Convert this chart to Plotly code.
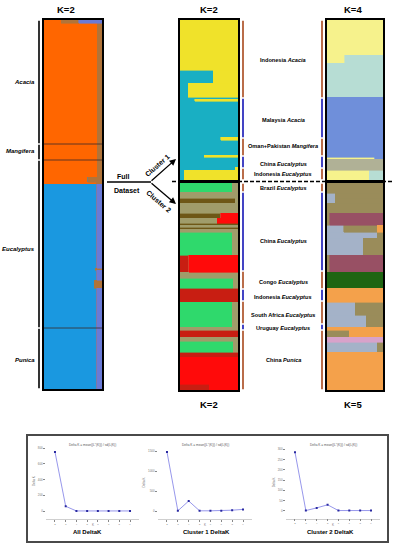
import numpy as np
import plotly.graph_objects as go

W, H = 399, 550


def px(x):
    return x / W


def py(y):
    return 1 - y / H


# ---------------- DATA ----------------
# Full dataset, K=2 (rows of individuals, membership proportions)
full_colors = ["#FF6600", "#1A98E0", "#B0743A", "#6A7AD6"]
full_sizes = [3, 154, 5, 2, 84, 2, 10, 8, 101]
full_q = [[0.3, 0, 0.3, 0.4], [0.92, 0, 0.08, 0], [0.75, 0, 0.25, 0], [0.9, 0, 0.1, 0],
          [0, 0.91, 0, 0.09], [0, 0.88, 0.12, 0], [0, 0.91, 0, 0.09], [0, 0.87, 0.13, 0],
          [0, 0.91, 0, 0.09]]
full_groups = ["Acacia", "Mangifera", "Eucalyptus", "Punica"]
full_group_sizes = [124, 16, 168, 61]
full_label_shift = [0, 1, -5, -1]

# Cluster 1, K=2
c1k2_colors = ["#19AFC3", "#F0E22A"]
c1k2_sizes = [50, 13, 14, 2, 2, 36, 3, 15, 2, 10, 3, 10]
c1k2_q = [[0, 1], [0.57, 0.43], [0.14, 0.86], [1, 0], [0.25, 0.75], [1, 0], [0.7, 0.3],
          [1, 0], [0.42, 0.58], [1, 0], [0.95, 0.05], [0.07, 0.93]]

# Cluster 1, K=4
c1k4_colors = ["#F6F28C", "#B7DDD4", "#6F8FDA", "#B0B196"]
c1k4_sizes = [35, 8, 34, 60, 2, 11, 10]
c1k4_q = [[1, 0, 0, 0], [0.32, 0.68, 0, 0], [0, 1, 0, 0], [0, 0, 1, 0], [0.85, 0, 0.15, 0],
          [0, 0, 0, 1], [0.75, 0.25, 0, 0]]

# Cluster 1 groups
c1_groups = ["Indonesia <i>Acacia</i>", "Malaysia <i>Acacia</i>", "Oman+Pakistan <i>Mangifera</i>",
             "China <i>Eucalyptus</i>", "Indonesia <i>Eucalyptus</i>"]
c1_group_sizes = [78, 40, 18, 12, 12]
c1_label_shift = [-1, -2, 1, -2, 0]

# Cluster 2, K=2
c2k2_colors = ["#C81E12", "#2FD96C", "#6E5716", "#A09C6A", "#FF0A0A"]
c2k2_sizes = [9, 6, 5, 10, 5, 5, 2, 2, 2, 3, 23, 17, 6, 10, 14, 25, 3, 7, 4, 11, 5, 27, 6]
c2k2_q = [[0, 0.9, 0, 0.1, 0], [0, 0, 0, 1, 0], [0, 0, 0.95, 0.05, 0], [0, 0, 0, 1, 0],
          [0, 0, 0.7, 0, 0.3], [0, 0, 0, 0.64, 0.36], [0, 0, 1, 0, 0], [0, 0, 0, 1, 0],
          [0, 0, 1, 0, 0], [0, 0, 0, 1, 0], [0, 0.9, 0, 0.1, 0], [0.15, 0, 0, 0, 0.85],
          [0, 0, 0, 1, 0], [0, 0.92, 0, 0.08, 0], [1, 0, 0, 0, 0], [0, 0.9, 0, 0.1, 0],
          [0, 0, 0, 1, 0], [1, 0, 0, 0, 0], [0, 0, 0, 1, 0], [0, 0.92, 0, 0.08, 0],
          [1, 0, 0, 0, 0], [0, 0, 0, 0, 1], [0.5, 0, 0, 0, 0.5]]

# Cluster 2, K=5
c2k5_colors = ["#A4B2C8", "#9A8C5A", "#985064", "#1F6512", "#F4A14B", "#D8A2CA"]
c2k5_sizes = [10, 5, 5, 10, 12, 7, 6, 17, 17, 16, 14, 13, 12, 3, 7, 5, 10, 38]
c2k5_q = [[0, 1, 0, 0, 0, 0], [0.15, 0.85, 0, 0, 0, 0], [0.15, 0.85, 0, 0, 0, 0],
          [0, 1, 0, 0, 0, 0], [0, 0.05, 0.95, 0, 0, 0], [0.3, 0.6, 0, 0, 0.1, 0],
          [0.9, 0.1, 0, 0, 0, 0], [0.65, 0.35, 0, 0, 0, 0], [0, 0.05, 0.95, 0, 0, 0],
          [0, 0, 0, 1, 0, 0], [0, 0, 0, 0, 1, 0], [0.5, 0.5, 0, 0, 0, 0],
          [0.7, 0.3, 0, 0, 0, 0], [0, 0, 0, 0, 1, 0], [0, 0.4, 0, 0, 0.6, 0],
          [0, 0, 0, 0, 0, 1], [0.9, 0.1, 0, 0, 0, 0], [0, 0, 0, 0, 1, 0]]

# Cluster 2 groups
c2_groups = ["Brazil <i>Eucalyptus</i>", "China <i>Eucalyptus</i>", "Congo <i>Eucalyptus</i>",
             "Indonesia <i>Eucalyptus</i>", "South Africa <i>Eucalyptus</i>",
             "Uruguay <i>Eucalyptus</i>", "China <i>Punica</i>"]
c2_group_sizes = [9, 79, 18, 12, 23, 6, 60]
c2_label_shift = [0, -9, -2, -2, -2, -1, 0]

# Delta K (Evanno)
k_values = [2, 3, 4, 5, 6, 7, 8, 9]
dk_all = [750, 60, 1, 1, 1, 1, 1, 1]
dk_c1 = [1475, 5, 250, 5, 5, 5, 20, 40]
dk_c2 = [285, 2, 15, 30, 2, 2, 2, 2]
dk_titles = ["All DeltaK", "Cluster 1 DeltaK", "Cluster 2 DeltaK"]

# ---------------- FIGURE ----------------
fig = go.Figure()
layout = dict(width=W, height=H, margin=dict(l=0, r=0, t=0, b=0),
              paper_bgcolor="white", plot_bgcolor="white", barmode="stack",
              showlegend=False, font=dict(family="Liberation Sans, Arial", color="black"))
shapes = []
annots = []

FONT = "Liberation Sans, Arial"


def note(**kw):
    d = dict(xanchor="center", yanchor="middle", showarrow=False)
    d.update(kw)
    annots.append(d)


def structure_panel(n, sizes, q, colors, xdom, ydom):
    sizes = np.array(sizes, dtype=float)
    total = sizes.sum()
    centers = np.cumsum(sizes) - sizes / 2
    q = np.array(q, dtype=float)
    sfx = "" if n == 1 else str(n)
    for j, c in enumerate(colors):
        fig.add_trace(go.Bar(x=q[:, j], y=centers, width=sizes, orientation="h",
                             marker=dict(color=c, line=dict(width=0.6, color=c)),
                             xaxis="x" + sfx, yaxis="y" + sfx, hoverinfo="skip"))
    layout["xaxis" + sfx] = dict(domain=[px(xdom[0]), px(xdom[1])], range=[0, 1],
                                 anchor="y" + sfx, showticklabels=False, showgrid=False,
                                 zeroline=False, showline=True, mirror=True,
                                 linecolor="black", linewidth=2, ticks="", fixedrange=True)
    layout["yaxis" + sfx] = dict(domain=[py(ydom[1]), py(ydom[0])], range=[total, 0],
                                 anchor="x" + sfx, showticklabels=False, showgrid=False,
                                 zeroline=False, showline=True, mirror=True,
                                 linecolor="black", linewidth=2, ticks="", fixedrange=True)
    return "y" + sfx


yl = structure_panel(1, full_sizes, full_q, full_colors, (44, 102), (20, 389))
y2 = structure_panel(2, c1k2_sizes, c1k2_q, c1k2_colors, (180, 238), (20, 180))
y3 = structure_panel(3, c2k2_sizes, c2k2_q, c2k2_colors, (180, 238), (183, 390))
y4 = structure_panel(4, c1k4_sizes, c1k4_q, c1k4_colors, (327, 383), (20, 180))
y5 = structure_panel(5, c2k5_sizes, c2k5_q, c2k5_colors, (327, 383), (183, 390))

# Full-dataset group brackets and separators
ends = np.cumsum(full_group_sizes)
starts = ends - np.array(full_group_sizes)
for i, g in enumerate(full_groups):
    shapes.append(dict(type="line", xref="paper", yref=yl, x0=px(39), x1=px(39),
                       y0=starts[i] + 0.8, y1=ends[i] - 0.8,
                       line=dict(color="black", width=1.6)))
    note(xref="paper", yref=yl, x=px(37), y=(starts[i] + ends[i]) / 2,
         yshift=full_label_shift[i], xanchor="right",
         text="<b><i>%s</i></b>" % g, font=dict(size=6, family=FONT))
    if i > 0:
        shapes.append(dict(type="line", xref="x", yref=yl, x0=0, x1=1, y0=starts[i],
                           y1=starts[i], line=dict(color="#3a2a2a", width=0.8)))

bracket_cols = ["#A8481C", "#1515B5"]


def group_brackets(yref, gsizes, gnames, shifts):
    e = np.cumsum(gsizes)
    s = e - np.array(gsizes)
    for i, g in enumerate(gnames):
        col = bracket_cols[i % 2]
        for xx in (243, 322):
            shapes.append(dict(type="line", xref="paper", yref=yref, x0=px(xx), x1=px(xx),
                               y0=s[i] + 0.8, y1=e[i] - 0.8, line=dict(color=col, width=1.6)))
        note(xref="paper", yref=yref, x=px(283), y=(s[i] + e[i]) / 2,
             yshift=shifts[i], text="<b>%s</b>" % g, font=dict(size=5.6, family=FONT))


group_brackets(y2, c1_group_sizes, c1_groups, c1_label_shift)
group_brackets(y3, c2_group_sizes, c2_groups, c2_label_shift)

# K titles
for (x, y, t) in [(66, 9.5, "K=2"), (209, 9.5, "K=2"), (353, 9.5, "K=4"),
                  (209, 404, "K=2"), (353, 404, "K=5")]:
    note(xref="paper", yref="paper", x=px(x), y=py(y),
         text="<b>%s</b>" % t, font=dict(size=9.5, family=FONT))

# dashed separator between clusters
shapes.append(dict(type="line", xref="paper", yref="paper", x0=px(172), x1=px(392),
                   y0=py(181.5), y1=py(181.5), line=dict(color="black", width=1.5, dash="4px,2px")))

# Full dataset split arrows
shapes.append(dict(type="line", xref="paper", yref="paper", x0=px(107), x1=px(151),
                   y0=py(182), y1=py(182), line=dict(color="black", width=1.3)))
for (hy, ay) in [(159, 23), (204, -22)]:
    annots.append(dict(xref="paper", yref="paper", x=px(176), y=py(hy), ax=-26, ay=ay,
                       axref="pixel", ayref="pixel", text="", showarrow=True,
                       arrowhead=2, arrowsize=1, arrowwidth=1.3, arrowcolor="black",
                       standoff=0, startstandoff=0))
note(xref="paper", yref="paper", x=px(123), y=py(176.5),
     text="<b>Full</b>", font=dict(size=7, family=FONT))
note(xref="paper", yref="paper", x=px(127), y=py(190.5),
     text="<b>Dataset</b>", font=dict(size=7, family=FONT))
note(xref="paper", yref="paper", x=px(157), y=py(165),
     textangle=-41, text="<b>Cluster 1</b>", font=dict(size=7, family=FONT))
note(xref="paper", yref="paper", x=px(159), y=py(201),
     textangle=41, text="<b>Cluster 2</b>", font=dict(size=7, family=FONT))

# ---------------- Delta K panel ----------------
shapes.append(dict(type="rect", xref="paper", yref="paper", x0=px(27), x1=px(388),
                   y0=py(542), y1=py(435), line=dict(color="#4a4a4a", width=2)))

dk_series = [dk_all, dk_c1, dk_c2]
dk_xdom = [(46.4, 138.6), (158.3, 251.7), (286.3, 379.7)]
dk_ydom = [(443.3, 518.9), (446, 519), (446.1, 518.7)]
dk_yrange = [[-100, 860], [-200, 1625], [-37.5, 315]]
dk_dtick = [200, 500, 50]
dk_caption_x = [87, 206, 330]
for i in range(3):
    n = 6 + i
    sfx = str(n)
    fig.add_trace(go.Scatter(x=k_values, y=dk_series[i], mode="lines+markers",
                             line=dict(color="#7C7CE6", width=0.8),
                             marker=dict(symbol="square", size=2, color="#2A2AA0"),
                             xaxis="x" + sfx, yaxis="y" + sfx, hoverinfo="skip"))
    layout["xaxis" + sfx] = dict(domain=[px(dk_xdom[i][0]), px(dk_xdom[i][1])],
                                 range=[1.2, 9.8], anchor="y" + sfx, tickvals=k_values,
                                 ticks="outside", ticklen=2, tickwidth=0.5, tickcolor="#888",
                                 tickfont=dict(size=2.5, color="#777"), showgrid=False,
                                 zeroline=False, showline=True, linecolor="#cfcfcf",
                                 linewidth=0.5, fixedrange=True)
    layout["yaxis" + sfx] = dict(domain=[py(dk_ydom[i][1]), py(dk_ydom[i][0])],
                                 range=dk_yrange[i], anchor="x" + sfx, dtick=dk_dtick[i],
                                 tick0=0, ticks="outside", ticklen=2, tickwidth=0.5,
                                 tickcolor="#888", tickfont=dict(size=3, color="#777"),
                                 showgrid=False, zeroline=False, showline=False,
                                 title=dict(text="Delta K", font=dict(size=3, color="#777"),
                                            standoff=2), fixedrange=True)
    cx = (dk_xdom[i][0] + dk_xdom[i][1]) / 2
    note(xref="paper", yref="paper", x=px(cx), y=py(524.5),
         text="K", font=dict(size=3, color="#777", family=FONT))
    note(xref="paper", yref="paper", x=px(cx), y=py(445),
         text="Delta K = mean(|L''(K)|) / sd(L(K))",
         font=dict(size=3.2, color="#555", family=FONT))
    note(xref="paper", yref="paper", x=px(dk_caption_x[i]), y=py(531.5),
         text="<b>%s</b>" % dk_titles[i], font=dict(size=6, family=FONT))

layout["shapes"] = shapes
layout["annotations"] = annots
fig.update_layout(**layout)
fig.write_html("out.html", config={"displayModeBar": False},
               post_script="document.body.style.margin='0';document.body.style.padding='0';")
